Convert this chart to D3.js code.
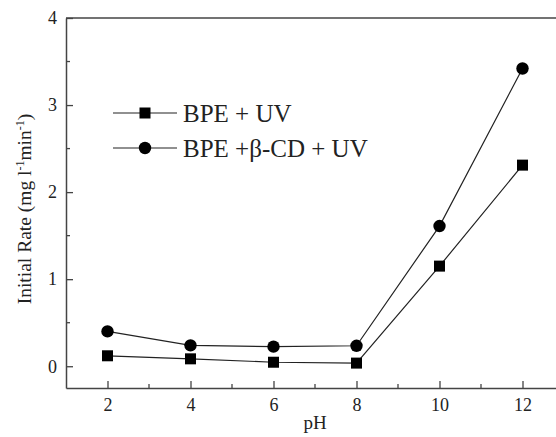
<!DOCTYPE html>
<html>
<head>
<meta charset="utf-8">
<script src="https://cdn.jsdelivr.net/npm/d3@7"></script>
<style>
  body { margin: 0; background: #fff; }
  svg { display: block; }
  svg text { font-family: "Liberation Serif", "Times New Roman", serif; }
</style>
</head>
<body>
<div id="chart"></div>
<script>
// data
const pH = [2, 4, 6, 8, 10, 12];
const bpeUV = [0.12, 0.085, 0.046, 0.036, 1.15, 2.31];
const bpeCdUV = [0.40, 0.24, 0.225, 0.235, 1.61, 3.42];
const xTicks = [2, 4, 6, 8, 10, 12];
const yTicks = [0, 1, 2, 3, 4];

const width = 556, height = 437;
const margin = { top: 18, left: 66, bottom: 49 };

const x = d3.scaleLinear().domain([1, 13]).range([margin.left, 564]);
const y = d3.scaleLinear().domain([-0.25, 4]).range([height - margin.bottom, margin.top]);

const svg = d3.select("#chart").append("svg")
    .attr("width", width)
    .attr("height", height)
    .attr("fill", "#222");

const axisColor = "#444";

// top frame line
svg.append("line")
    .attr("x1", x(1)).attr("x2", x(13))
    .attr("y1", y(4)).attr("y2", y(4))
    .attr("stroke", axisColor).attr("stroke-width", 1.5);

// x axis: ticks pointing inward
const xAxis = svg.append("g")
    .attr("transform", `translate(0,${y(-0.25)})`)
    .call(d3.axisBottom(x).tickValues(xTicks).tickFormat(d3.format("d"))
        .tickSizeInner(-7).tickSizeOuter(0).tickPadding(10));
xAxis.append("g").selectAll("line")
    .data([3, 5, 7, 9, 11])
    .join("line")
    .attr("x1", d => x(d)).attr("x2", d => x(d))
    .attr("y1", 0).attr("y2", -4);

// y axis
const yAxis = svg.append("g")
    .attr("transform", `translate(${x(1)},0)`)
    .call(d3.axisLeft(y).tickValues(yTicks).tickFormat(d3.format("d"))
        .tickSizeInner(-7).tickSizeOuter(0).tickPadding(9));
yAxis.append("g").selectAll("line")
    .data([0.5, 1.5, 2.5, 3.5])
    .join("line")
    .attr("x1", 0).attr("x2", 4)
    .attr("y1", d => y(d)).attr("y2", d => y(d));

[xAxis, yAxis].forEach(g => {
    g.attr("font-family", null).attr("font-size", null);
    g.select(".domain").attr("stroke", axisColor).attr("stroke-width", 1.5);
    g.selectAll("line").attr("stroke", axisColor).attr("stroke-width", 1.3);
    g.selectAll("text")
        .style("font-size", "18px")
        .attr("fill", "#222");
});

// axis titles
svg.append("text")
    .attr("x", x(7))
    .attr("y", 429)
    .attr("text-anchor", "middle")
    .style("font-size", "19px")
    .text("pH");

const yTitle = svg.append("text")
    .attr("transform", `translate(31,209) rotate(-90)`)
    .attr("text-anchor", "middle")
    .style("font-size", "19.5px");
yTitle.append("tspan").text("Initial Rate (mg l");
yTitle.append("tspan").attr("dy", -7).style("font-size", "12px").text("-1");
yTitle.append("tspan").attr("dy", 7).text("min");
yTitle.append("tspan").attr("dy", -7).style("font-size", "12px").text("-1");
yTitle.append("tspan").attr("dy", 7).text(")");

// series
const series = [
    { name: "BPE + UV", values: bpeUV, shape: "square" },
    { name: "BPE +\u03b2-CD + UV", values: bpeCdUV, shape: "circle" }
];

const line = d3.line().x(d => x(d[0])).y(d => y(d[1]));

function drawMarker(g, shape, cx, cy) {
    if (shape === "square") {
        g.append("rect")
            .attr("x", cx - 5.5).attr("y", cy - 5.5)
            .attr("width", 11).attr("height", 11)
            .attr("fill", "#000");
    } else {
        g.append("circle")
            .attr("cx", cx).attr("cy", cy).attr("r", 6.2)
            .attr("fill", "#000");
    }
}

series.forEach(s => {
    const pts = pH.map((p, i) => [p, s.values[i]]);
    svg.append("path")
        .attr("d", line(pts))
        .attr("fill", "none")
        .attr("stroke", "#222")
        .attr("stroke-width", 1.2);
    const g = svg.append("g");
    pts.forEach(p => drawMarker(g, s.shape, x(p[0]), y(p[1])));
});

// legend
const legend = svg.append("g");
series.forEach((s, i) => {
    const ly = 113 + i * 35;
    legend.append("line")
        .attr("x1", 113).attr("x2", 177)
        .attr("y1", ly).attr("y2", ly)
        .attr("stroke", "#222").attr("stroke-width", 1.2);
    drawMarker(legend, s.shape, 145, ly);
    legend.append("text")
        .attr("x", 183)
        .attr("y", ly + 8.5)
        .style("font-size", "25px")
        .text(s.name);
});
</script>
</body>
</html>
